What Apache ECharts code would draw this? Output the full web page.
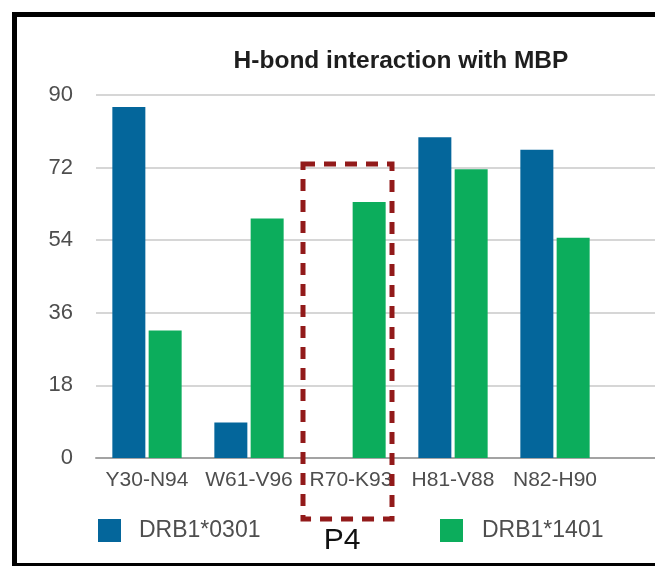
<!DOCTYPE html>
<html>
<head>
<meta charset="utf-8">
<script src="https://cdn.jsdelivr.net/npm/echarts@6/dist/echarts.min.js"></script>
<style>
  html, body { margin: 0; padding: 0; background: #fff; }
  #chart { width: 655px; height: 566px; }
</style>
</head>
<body>
<div id="chart"></div>
<script>
// Residue pairs and H-bond occupancy per allele
const categories = ['Y30-N94', 'W61-V96', 'R70-K93', 'H81-V88', 'N82-H90'];
const yTicks = [0, 18, 36, 54, 72, 90];
const seriesNames = ['DRB1*0301', 'DRB1*1401'];
const drb0301 = [87, 8.8, 0, 79.5, 76.4];
const drb1401 = [31.6, 59.4, 63.5, 71.6, 54.6];
const chartTitle = 'H-bond interaction with MBP';
const pocketLabel = 'P4';
const pocketCategory = 'R70-K93';
const pocketTopValue = 72.9;

const FONT = '"Liberation Sans", Arial, Helvetica, sans-serif';
const BLUE = '#04669b';
const GREEN = '#0cad5c';
const TEXT_GRAY = '#4e4e4e';
const GRID_LINE = { color: '#c9c9c9', width: 1.5 };
const BASE_LINE = { color: '#a3a3a3', width: 2 };

const chart = echarts.init(document.getElementById('chart'), null, { renderer: 'canvas' });

const yRange = {
  type: 'value',
  min: yTicks[0],
  max: yTicks[yTicks.length - 1],
  interval: yTicks[1] - yTicks[0],
  axisLine: { show: false },
  axisTick: { show: false },
  splitLine: { show: true, lineStyle: GRID_LINE }
};

const option = {
  backgroundColor: '#ffffff',
  animation: false,
  textStyle: { fontFamily: FONT },
  grid: [
    // plot area holding the five residue pairs
    { left: 96, width: 510, top: 95, bottom: 108, containLabel: false },
    // empty strip carrying the gridlines on to the right edge
    { left: 606, right: 0, top: 95, bottom: 108, containLabel: false }
  ],
  legend: [
    {
      left: 98, top: 519, padding: 0,
      itemWidth: 23, itemHeight: 23, icon: 'rect',
      data: [seriesNames[0]],
      textStyle: { fontFamily: FONT, fontSize: 23, color: TEXT_GRAY, padding: [0, 0, 0, 13], lineHeight: 23 }
    },
    {
      left: 440, top: 519, padding: 0,
      itemWidth: 23, itemHeight: 23, icon: 'rect',
      data: [seriesNames[1]],
      textStyle: { fontFamily: FONT, fontSize: 23, color: TEXT_GRAY, padding: [0, 0, 0, 14], lineHeight: 23 }
    }
  ],
  xAxis: [
    {
      type: 'category',
      gridIndex: 0,
      data: categories,
      boundaryGap: true,
      axisTick: { show: false },
      axisLine: { show: true, lineStyle: BASE_LINE },
      axisLabel: { fontFamily: FONT, fontSize: 21, color: TEXT_GRAY, margin: 12, interval: 0 },
      splitLine: { show: false }
    },
    {
      type: 'category',
      gridIndex: 1,
      data: [''],
      axisTick: { show: false },
      axisLine: { show: true, lineStyle: BASE_LINE },
      axisLabel: { show: false },
      splitLine: { show: false }
    }
  ],
  yAxis: [
    Object.assign({}, yRange, {
      gridIndex: 0,
      axisLabel: {
        fontFamily: FONT, fontSize: 22, color: TEXT_GRAY, margin: 23,
        verticalAlign: 'middle', padding: [8, 0, 0, 0]
      }
    }),
    Object.assign({}, yRange, { gridIndex: 1, axisLabel: { show: false } })
  ],
  series: [
    {
      name: seriesNames[0], type: 'bar', data: drb0301,
      xAxisIndex: 0, yAxisIndex: 0,
      barWidth: 33, barGap: '10%',
      itemStyle: { color: BLUE }
    },
    {
      name: seriesNames[1], type: 'bar', data: drb1401,
      xAxisIndex: 0, yAxisIndex: 0,
      barWidth: 33, barGap: '10%',
      itemStyle: { color: GREEN }
    }
  ]
};

chart.setOption(option);

// Annotations placed from the axis scales: frame, title, the dashed pocket box and its label
const pocketZero = chart.convertToPixel({ gridIndex: 0 }, [pocketCategory, 0]);
const pocketTopPx = chart.convertToPixel({ gridIndex: 0 }, [pocketCategory, pocketTopValue]);
const pocketCx = pocketZero[0];
const boxLeft = pocketCx - 48;
const boxRight = pocketCx + 41;
const boxTop = pocketTopPx[1];
const boxBottom = pocketZero[1] + 61;

chart.setOption({
  graphic: [
    {
      type: 'rect', id: 'frame', z: 100, silent: true,
      shape: { x: 14.5, y: 14.5, width: 720, height: 551 },
      style: { fill: 'none', stroke: '#000', lineWidth: 5 }
    },
    {
      type: 'text', id: 'title', z: 100,
      style: {
        text: chartTitle, x: 401, y: 61,
        align: 'center', verticalAlign: 'middle',
        font: 'bold 24.5px ' + FONT, fill: '#1e1e1e'
      }
    },
    {
      type: 'rect', id: 'pocket', z: 100, silent: true,
      shape: { x: boxLeft, y: boxTop, width: boxRight - boxLeft, height: boxBottom - boxTop },
      style: { fill: 'none', stroke: '#921a1a', lineWidth: 5, lineDash: [12, 9] }
    },
    {
      type: 'text', id: 'pocketLabel', z: 100,
      style: {
        text: pocketLabel, x: boxLeft + 39, y: 541,
        align: 'center', verticalAlign: 'middle',
        font: '30px ' + FONT, fill: '#111'
      }
    }
  ]
});
</script>
</body>
</html>
